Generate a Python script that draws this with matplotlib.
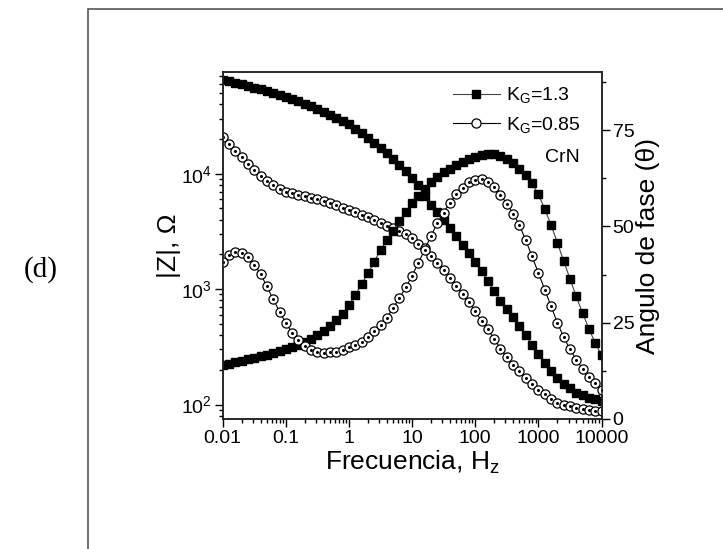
import matplotlib
matplotlib.use("Agg")
import matplotlib.pyplot as plt
import matplotlib.patches as patches
from matplotlib.lines import Line2D
from matplotlib.ticker import LogLocator, FixedLocator, LogFormatterSciNotation, NullFormatter

plt.rcParams['font.family'] = ['Liberation Sans Narrow', 'Liberation Sans', 'DejaVu Sans']
plt.rcParams['mathtext.fontset'] = 'custom'
plt.rcParams['mathtext.rm'] = 'Liberation Sans'
plt.rcParams['mathtext.it'] = 'Liberation Sans'
plt.rcParams['mathtext.default'] = 'regular'

# frequency points (Hz), 10 per decade
freq = [0.01, 0.0126, 0.0158, 0.02, 0.0251, 0.0316, 0.0398, 0.0501, 0.0631, 0.0794,
        0.1, 0.126, 0.158, 0.2, 0.251, 0.316, 0.398, 0.501, 0.631, 0.794,
        1, 1.26, 1.58, 2, 2.51, 3.16, 3.98, 5.01, 6.31, 7.94,
        10, 12.6, 15.8, 20, 25.1, 31.6, 39.8, 50.1, 63.1, 79.4,
        100, 126, 158, 200, 251, 316, 398, 501, 631, 794,
        1000, 1259, 1585, 1995, 2512, 3162, 3981, 5012, 6310, 7943, 10000]

# |Z| (ohm), K_G = 1.3
z_13 = [64600, 63100, 61100, 59200, 57300, 55500, 53700, 52000, 50100, 48300,
        46300, 44400, 42400, 40400, 38400, 36400, 34400, 32500, 30600, 28800,
        26900, 24500, 22400, 20400, 18600, 16800, 15100, 13500, 12000, 10500,
        9120, 7940, 6460, 5370, 4680, 3980, 3390, 2880, 2430, 2040,
        1720, 1430, 1180, 966, 794, 676, 575, 479, 398, 331,
        275, 229, 195, 170, 151, 138, 127, 120, 115, 111, 108]

# phase angle (deg), K_G = 1.3
ph_13 = [13.9, 14.3, 14.7, 15.1, 15.5, 15.9, 16.3, 16.7, 17.1, 17.6,
         18.1, 18.6, 19.2, 19.9, 20.7, 21.7, 22.9, 24.2, 25.7, 27.3,
         29.5, 32.2, 35.0, 37.8, 40.8, 43.9, 46.4, 48.9, 51.4, 53.8,
         56.0, 57.9, 59.8, 61.5, 62.9, 64.0, 65.0, 65.9, 66.7, 67.4,
         68.0, 68.5, 68.8, 68.7, 68.3, 67.6, 66.5, 65.0, 63.3, 61.2,
         58.3, 54.5, 50.4, 45.8, 41.0, 36.4, 31.8, 27.5, 23.4, 19.8, 16.5]

# |Z| (ohm), K_G = 0.85
z_085 = [20900, 18200, 15800, 14000, 12200, 10700, 9550, 8710, 7940, 7380,
         7000, 6790, 6580, 6380, 6190, 6000, 5810, 5600, 5350, 5080,
         4850, 4620, 4420, 4210, 3950, 3720, 3530, 3370, 3200, 3020,
         2750, 2480, 2260, 1950, 1700, 1460, 1240, 1060, 906, 774,
         646, 525, 447, 372, 303, 259, 221, 194, 170, 150,
         135, 123, 112, 104, 100, 96.6, 93.8, 91.6, 90.2, 88.7, 87.7]

# phase angle (deg), K_G = 0.85
ph_085 = [40.7, 42.5, 43.3, 43.2, 42.1, 40.1, 37.7, 34.4, 31.1, 27.9,
          24.9, 22.4, 20.5, 19.0, 17.9, 17.4, 17.2, 17.3, 17.5, 18.0,
          18.6, 19.1, 19.9, 21.2, 22.8, 24.4, 26.3, 28.8, 31.4, 34.2,
          37.2, 40.6, 43.9, 47.6, 50.8, 53.6, 56.2, 58.3, 60.0, 61.4,
          62.0, 62.2, 61.6, 60.2, 58.2, 55.9, 53.3, 50.3, 46.4, 42.2,
          37.9, 33.6, 29.3, 25.0, 21.3, 18.1, 15.4, 13.0, 11.0, 9.3, 7.6]

x_ticks = [0.01, 0.1, 1, 10, 100, 1000, 10000]
x_ticklabels = ["0.01", "0.1", "1", "10", "100", "1000", "10000"]
phase_ticks = [0, 25, 50, 75]

fig = plt.figure(figsize=(7.23, 5.49), dpi=100)
ax = fig.add_axes([0.308, 0.2368, 0.524, 0.6315])
ax2 = ax.twinx()

sq = dict(marker='s', ms=6.4, mfc='black', mec='black', color='#444444', lw=0.8)
ci = dict(marker='o', ms=6.6, mfc='white', mec='black', mew=0.9, color='black', lw=0.8)
dot = dict(marker='o', ms=1.2, color='black', ls='none')

ax.plot(freq, z_13, **sq)
ax.plot(freq, z_085, **ci)
ax.plot(freq, z_085, **dot)
ax2.plot(freq, ph_13, **sq)
ax2.plot(freq, ph_085, **ci)
ax2.plot(freq, ph_085, **dot)

ax.set_xscale('log')
ax.set_yscale('log')
ax.set_xlim(0.01, 10000)
ax.set_ylim(75, 75500)
ax2.set_ylim(0, 90)

ax.set_xticks(x_ticks)
ax.set_xticklabels(x_ticklabels)
ax.xaxis.set_minor_locator(LogLocator(base=10, subs=range(2, 10), numticks=20))
ax.xaxis.set_minor_formatter(NullFormatter())
ax.yaxis.set_major_locator(FixedLocator([100, 1000, 10000]))
ax.yaxis.set_major_formatter(LogFormatterSciNotation())
ax.yaxis.set_minor_locator(LogLocator(base=10, subs=range(2, 10), numticks=20))
ax.yaxis.set_minor_formatter(NullFormatter())
ax2.set_yticks(phase_ticks)
ax2.set_yticks([12.5, 37.5, 62.5, 87.5], minor=True)

ax.tick_params(axis='both', which='major', direction='out', length=6, width=1, labelsize=14, pad=2)
ax.tick_params(axis='both', which='minor', direction='out', length=3, width=1)
ax.tick_params(top=False, right=False, which='both')
ax2.tick_params(axis='y', which='major', direction='out', length=6, width=1, labelsize=14, pad=2)
ax2.tick_params(axis='y', which='minor', direction='out', length=3, width=1)

for a in (ax, ax2):
    for s in a.spines.values():
        s.set_linewidth(1.1)
        s.set_color('#222222')

ax.set_xlabel("Frecuencia, H$_z$", fontsize=19, labelpad=1)
ax.set_ylabel("|Z|, Ω", fontsize=19, labelpad=0)
ax2.set_ylabel("Angulo de fase (θ)", fontsize=19, labelpad=1)

handles = [Line2D([], [], **sq), Line2D([], [], **ci)]
leg = ax.legend(handles, ["K$_G$=1.3", "K$_G$=0.85"], loc='upper left',
                bbox_to_anchor=(0.608, 0.962), frameon=False, fontsize=14,
                handlelength=2.4, handletextpad=0.3, labelspacing=0.5,
                borderpad=0, borderaxespad=0)

ax.text(0.85, 0.755, "CrN", transform=ax.transAxes, fontsize=14, ha='left', va='center')

fig.text(41 / 723, 1 - 270 / 549, "(d)", fontsize=21, family='Liberation Serif',
         ha='center', va='center')

fig.add_artist(patches.Rectangle((87.5 / 723, -0.1), 1.0, 1 - 9.5 / 549 + 0.1,
                                 transform=fig.transFigure, fill=False,
                                 ec='#555555', lw=1.2))

fig.savefig("out.png", dpi=100)
